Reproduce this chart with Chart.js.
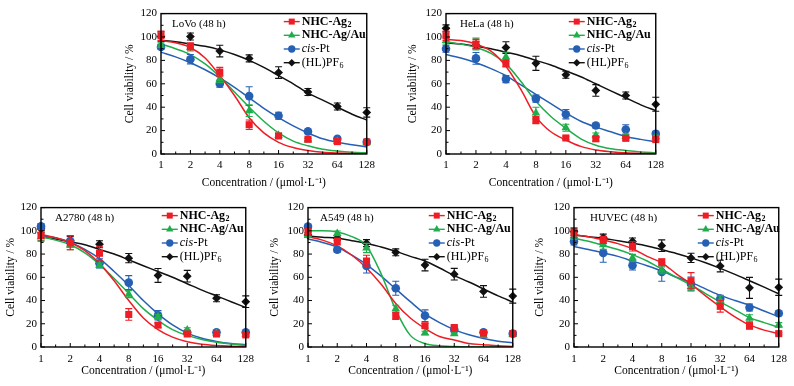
<!DOCTYPE html>
<html>
<head>
<meta charset="utf-8">
<script src="https://cdn.jsdelivr.net/npm/chart.js"></script>
<style>
  body { margin: 0; background: #fff; width: 794px; height: 386px; position: relative; overflow: hidden; }
  canvas { position: absolute; }
</style>
</head>
<body>
<canvas id="lovo"></canvas>
<canvas id="hela"></canvas>
<canvas id="a2780"></canvas>
<canvas id="a549"></canvas>
<canvas id="huvec"></canvas>
<script>
// ===== dose-response panels (cell viability vs concentration) =====
const CONC = [1, 2, 4, 8, 16, 32, 64, 128];
const FIT_CONC = [1, 1.41, 2, 2.83, 4, 5.66, 8, 11.3, 16, 22.6, 32, 45.3, 64, 90.5, 128];
const X_TICKS = ["1", "2", "4", "8", "16", "32", "64", "128"];

// LoVo
const lovoAg2 = [101, 92, 70, 25, 15.4, 12.6, 10.6, 10.3];
const lovoAg2Err = [4, 3, 4, 4, 2, 1, 1.5, 1];
const lovoAgAu = [93, 91, 64, 37, 16, 12, 11, 10];
const lovoAgAuErr = [2, 3, 3, 5, 2, 1, 1, 1];
const lovoPt = [91.5, 81, 60, 49.5, 32.7, 19.3, 13, 10.3];
const lovoPtErr = [2, 4, 3, 8, 3, 2, 1.5, 1];
const lovoHL = [100.4, 100.4, 88, 81.7, 69.6, 53, 40.6, 35.5];
const lovoHLErr = [4, 3, 5, 3, 5, 3, 3, 4];
const lovoAg2Fit = [97, 95, 91, 82, 67, 50, 31, 18, 10, 5.5, 3, 1.5, 0.8, 0.4, 0.2];
const lovoAgAuFit = [94, 90, 85, 77, 66, 53, 40, 28, 18, 11, 7, 4, 2.5, 1.5, 1];
const lovoPtFit = [87, 83, 78, 72, 65, 57, 48, 39, 31, 24, 18, 13, 10, 8, 6];
const lovoHLFit = [97, 96, 94, 92, 89, 85, 80, 74, 67, 60, 52, 46, 40, 34, 29];

// HeLa
const helaAg2 = [101, 94, 77.5, 29, 13.7, 13, 13.4, 12.3];
const helaAg2Err = [4, 4, 3, 3, 1.5, 2, 1.5, 1.5];
const helaAgAu = [97, 94, 83, 35, 22.4, 16, 15, 14.5];
const helaAgAuErr = [3, 5, 4, 5, 3, 2, 1.5, 1.5];
const helaPt = [90, 81.7, 64, 47.3, 34, 24.3, 21, 17.3];
const helaPtErr = [3, 5, 3, 3, 4, 2, 4, 2];
const helaHL = [107.4, 93, 91, 77.5, 67.7, 54.3, 50, 42.5];
const helaHLErr = [3, 3, 5, 6, 3, 5, 3, 6];
const helaAg2Fit = [98, 97, 94, 88, 75, 55, 32, 19, 12, 6.5, 3.5, 2, 1, 0.5, 0.3];
const helaAgAuFit = [96, 94, 91, 86, 77, 62, 45, 32, 22, 13, 7.5, 4.5, 3, 1.8, 1];
const helaPtFit = [85, 82, 78, 73, 67, 59, 51, 43, 35, 28, 23, 19, 15, 12.5, 10.5];
const helaHLFit = [95, 94, 92, 90, 87, 84, 80, 76, 71, 66, 60, 54, 48, 42, 37];

// A2780
const a2780Ag2 = [96, 89.7, 80.7, 28, 18.8, 11.2, 11.2, 10.4];
const a2780Ag2Err = [5, 6, 6, 5, 2, 1.5, 1, 1.5];
const a2780AgAu = [94.7, 87.7, 70.3, 45.5, 26, 14.6, 11.8, 11.2];
const a2780AgAuErr = [3, 4, 2, 3, 2, 2, 1, 1];
const a2780Pt = [104, 91, 72, 55.4, 27.3, 12.4, 12.6, 12.6];
const a2780PtErr = [2, 5, 4, 6, 4, 1.5, 1, 1];
const a2780HL = [101.7, 92, 88.5, 76.5, 61.6, 61, 42, 39];
const a2780HLErr = [3, 3, 3, 4, 6, 5, 3, 5];
const a2780Ag2Fit = [97, 94, 90, 83, 72, 57, 40, 25, 15, 8.5, 4.5, 2.3, 1.2, 0.6, 0.3];
const a2780AgAuFit = [95, 92, 88, 81, 71, 59, 46, 33, 23, 15, 10, 6.5, 4, 2.5, 1.5];
const a2780PtFit = [96, 94, 90, 84, 76, 65, 53, 40, 28.5, 19, 12, 7.5, 4.8, 3, 2];
const a2780HLFit = [95, 93, 90.5, 88, 84, 80, 75, 70, 65, 60, 54.5, 49, 44, 39, 34];

// A549
const a549Ag2 = [99, 90.8, 74, 26.7, 18.3, 16.3, 12, 11.5];
const a549Ag2Err = [3, 3, 5, 3, 2, 3, 1.5, 1.5];
const a549AgAu = [96.4, 97.8, 85.2, 33, 12, 11.5, 10, 10.7];
const a549AgAuErr = [2, 2, 4, 3, 1.5, 1.5, 1, 1];
const a549Pt = [103.7, 83.7, 69.7, 50.6, 27, 15, 12.6, 11.5];
const a549PtErr = [2, 2, 6, 6, 5, 3, 1.5, 1];
const a549HL = [96.4, 93.6, 89.4, 81.5, 70.5, 62.7, 47.8, 43.8];
const a549HLErr = [2, 2, 3, 3, 5, 5, 5, 6];
const a549Ag2Fit = [95, 92, 87, 79, 68, 54, 37.5, 25, 16, 9, 6, 3, 2, 1, 0.5];
const a549AgAuFit = [100, 100, 99, 95, 87, 63, 32, 10, 3, 1, 0.4, 0.1, 0, 0, 0];
const a549PtFit = [93, 90, 86, 79, 71, 61, 50, 39, 28.5, 21, 15, 10.5, 7.3, 5, 3.7];
const a549HLFit = [95.5, 94.5, 93.6, 91.5, 89.4, 86, 82.3, 78, 74, 68, 61.5, 56, 50, 44, 38.8];

// HUVEC
const huvecAg2 = [98.6, 92.2, 86.6, 73, 57, 35, 18.3, 11.5];
const huvecAg2Err = [4, 3, 4, 3, 7, 5, 3, 1];
const huvecAgAu = [95.5, 88, 76.7, 66, 52, 40, 24.7, 19];
const huvecAgAuErr = [3, 4, 3, 3, 3, 4, 3, 2];
const huvecPt = [90.8, 81, 70.3, 64.6, 54.3, 41.6, 34, 29];
const huvecPtErr = [3, 8, 4, 8, 6, 3, 3, 2];
const huvecHL = [99.2, 94.2, 90.8, 87.2, 76.7, 69.7, 50.9, 51.4];
const huvecHLErr = [3, 3, 3, 5, 4, 5, 9, 7];
const huvecAg2Fit = [96.4, 95, 92.2, 89, 84.6, 78, 72.5, 63, 54, 44, 34.6, 26, 19, 14.5, 11.5];
const huvecAgAuFit = [93.6, 91, 87.4, 84, 79.5, 74, 67, 60, 53.4, 46, 38.8, 32, 25.3, 21, 17];
const huvecPtFit = [86.6, 84, 81, 78, 74, 70, 65.5, 60, 55.6, 50, 44.4, 40, 36, 31, 26];
const huvecHLFit = [96.4, 95, 93.6, 91.5, 89.4, 87, 83.8, 80.5, 76.7, 72.5, 67.7, 62.5, 57, 51.5, 45.8];

// series styles (red, green, blue, black)
const STYLES = [
  { color: "#ee1d25", point: "rect", r: 5 },
  { color: "#1fae4b", point: "triangle", r: 5 },
  { color: "#2560b5", point: "circle", r: 4.3 },
  { color: "#111111", point: "rectRot", r: 4.4 }
];

// legend labels, pieces with their own font style
const LEGEND = [
  [{ t: "NHC-Ag", w: "bold" }, { t: "2", w: "bold", sub: true }],
  [{ t: "NHC-Ag/Au", w: "bold" }],
  [{ t: "cis", s: "italic" }, { t: "-Pt" }],
  [{ t: "(HL)PF" }, { t: "6", sub: true }]
];

const SERIF = '"Liberation Serif", "Times New Roman", serif';
Chart.defaults.font.family = SERIF;
Chart.defaults.color = "#000";

function marker(ctx, style, x, y, r) {
  ctx.beginPath();
  if (style === "circle") {
    ctx.arc(x, y, r, 0, Math.PI * 2);
  } else if (style === "rect") {
    const s = r * Math.SQRT1_2;
    ctx.rect(x - s, y - s, 2 * s, 2 * s);
  } else if (style === "triangle") {
    ctx.moveTo(x, y - r);
    ctx.lineTo(x + r * 0.866, y + r * 0.5);
    ctx.lineTo(x - r * 0.866, y + r * 0.5);
    ctx.closePath();
  } else {
    ctx.moveTo(x, y - r); ctx.lineTo(x + r, y); ctx.lineTo(x, y + r); ctx.lineTo(x - r, y);
    ctx.closePath();
  }
  ctx.fill();
}

// error bars + frame + inward ticks + legend
const panelPlugin = {
  id: "panel",
  beforeDatasetDraw(chart, args) {
    const ds = chart.data.datasets[args.index];
    if (!ds.errors) return;
    const { ctx, scales: { x, y } } = chart;
    ctx.save();
    ctx.strokeStyle = ds.borderColor;
    ctx.lineWidth = 1.1;
    ctx.beginPath();
    ds.data.forEach((p, i) => {
      const px = x.getPixelForValue(p.x);
      const y1 = y.getPixelForValue(p.y + ds.errors[i]);
      const y2 = y.getPixelForValue(p.y - ds.errors[i]);
      ctx.moveTo(px, y1); ctx.lineTo(px, y2);
      ctx.moveTo(px - 3.5, y1); ctx.lineTo(px + 3.5, y1);
      ctx.moveTo(px - 3.5, y2); ctx.lineTo(px + 3.5, y2);
    });
    ctx.stroke();
    ctx.restore();
  },
  afterDraw(chart, args, opts) {
    const { ctx, chartArea: a, scales: { x, y } } = chart;
    ctx.save();
    ctx.strokeStyle = "#000";
    ctx.lineWidth = 1.4;
    ctx.strokeRect(a.left, a.top, a.right - a.left, a.bottom - a.top);

    ctx.lineWidth = 1;
    ctx.beginPath();
    x.ticks.forEach((t, i) => {
      const px = x.getPixelForValue(t.value);
      ctx.moveTo(px, a.bottom); ctx.lineTo(px, a.bottom - 4);
      if (i < x.ticks.length - 1) {
        const mx = x.getPixelForValue(t.value * Math.SQRT2);
        ctx.moveTo(mx, a.bottom); ctx.lineTo(mx, a.bottom - 2.5);
      }
    });
    y.ticks.forEach((t, i) => {
      const py = y.getPixelForValue(t.value);
      ctx.moveTo(a.left, py); ctx.lineTo(a.left + 4, py);
      if (i < y.ticks.length - 1) {
        const my = y.getPixelForValue(t.value + 10);
        ctx.moveTo(a.left, my); ctx.lineTo(a.left + 2.5, my);
      }
    });
    ctx.stroke();

    // panel label
    ctx.fillStyle = "#000";
    ctx.textBaseline = "middle";
    ctx.textAlign = "left";
    ctx.font = "11px " + SERIF;
    ctx.fillText(opts.label, a.left + opts.labelDx, a.top + 10.7);

    // legend
    const tx = a.right - opts.legendDx;
    LEGEND.forEach((parts, i) => {
      const ly = a.top + 8 + i * 13.7;
      const st = STYLES[i];
      ctx.strokeStyle = st.color;
      ctx.fillStyle = st.color;
      ctx.lineWidth = 1.4;
      ctx.beginPath();
      ctx.moveTo(tx - 18, ly); ctx.lineTo(tx - 2, ly);
      ctx.stroke();
      marker(ctx, st.point, tx - 10, ly, st.r * 0.85);
      ctx.fillStyle = "#000";
      let cx = tx;
      parts.forEach(p => {
        const size = p.sub ? 8 : 12;
        ctx.font = (p.s || "normal") + " " + (p.w || "normal") + " " + size + "px " + SERIF;
        ctx.fillText(p.t, cx, p.sub ? ly + 3.5 : ly);
        cx += ctx.measureText(p.t).width + (p.sub ? 0 : 0.5);
      });
    });
    ctx.restore();
  }
};

function makePanel(id, geom, label, series) {
  const el = document.getElementById(id);
  el.width = geom.w; el.height = geom.h;
  el.style.left = geom.left + "px"; el.style.top = geom.top + "px";

  const points = series.map((s, i) => ({
    type: "line",
    data: CONC.map((c, k) => ({ x: c, y: s.mean[k] })),
    errors: s.err,
    showLine: false,
    clip: false,
    borderColor: STYLES[i].color,
    backgroundColor: STYLES[i].color,
    pointStyle: STYLES[i].point,
    pointRadius: STYLES[i].r,
    pointBorderWidth: 0,
    order: 0
  }));
  const curves = series.map((s, i) => ({
    type: "line",
    data: FIT_CONC.map((c, k) => ({ x: c, y: s.fit[k] })),
    borderColor: STYLES[i].color,
    borderWidth: 1.5,
    pointRadius: 0,
    cubicInterpolationMode: "monotone",
    fill: false,
    order: 1
  }));

  return new Chart(el, {
    type: "line",
    data: { datasets: points.concat(curves) },
    plugins: [panelPlugin],
    options: {
      responsive: false,
      animation: false,
      devicePixelRatio: 1,
      layout: { padding: { top: 8, right: 12, left: 0, bottom: 0 } },
      plugins: {
        legend: { display: false },
        tooltip: { enabled: false },
        panel: { label: label, labelDx: geom.labelDx, legendDx: geom.legendDx }
      },
      scales: {
        x: {
          type: "logarithmic",
          min: 1, max: 128,
          afterBuildTicks: s => { s.ticks = CONC.map(v => ({ value: v })); },
          afterFit: s => { s.height = geom.xH; },
          grid: { display: false, drawTicks: false },
          border: { display: false },
          ticks: { autoSkip: false, maxRotation: 0, padding: geom.tickPad, font: { size: 11 },
                   callback: (v, i) => X_TICKS[i] },
          title: { display: true, text: "Concentration / (μmol·L⁻¹)", font: { size: 11.5 },
                   padding: { top: 0, bottom: 4 } }
        },
        y: {
          min: 0, max: 120,
          afterFit: s => { s.width = geom.yW; },
          grid: { display: false, drawTicks: false },
          border: { display: false },
          ticks: { stepSize: 20, padding: 4, font: { size: 11 } },
          title: { display: true, text: "Cell viability / %", font: { size: 11.5 },
                   padding: { top: 4, bottom: 4 } }
        }
      }
    }
  });
}

makePanel("lovo", { left: 119, top: 3, w: 261, h: 191, yW: 42, xH: 40, tickPad: 5, labelDx: 11, legendDx: 65 }, "LoVo (48 h)", [
  { mean: lovoAg2, err: lovoAg2Err, fit: lovoAg2Fit },
  { mean: lovoAgAu, err: lovoAgAuErr, fit: lovoAgAuFit },
  { mean: lovoPt, err: lovoPtErr, fit: lovoPtFit },
  { mean: lovoHL, err: lovoHLErr, fit: lovoHLFit }
]);
makePanel("hela", { left: 402, top: 3, w: 267, h: 191, yW: 44, xH: 40, tickPad: 5, labelDx: 14, legendDx: 69 }, "HeLa (48 h)", [
  { mean: helaAg2, err: helaAg2Err, fit: helaAg2Fit },
  { mean: helaAgAu, err: helaAgAuErr, fit: helaAgAuFit },
  { mean: helaPt, err: helaPtErr, fit: helaPtFit },
  { mean: helaHL, err: helaHLErr, fit: helaHLFit }
]);
makePanel("a2780", { left: 0, top: 197, w: 260, h: 185, yW: 41, xH: 35, tickPad: 6, labelDx: 14, legendDx: 66 }, "A2780 (48 h)", [
  { mean: a2780Ag2, err: a2780Ag2Err, fit: a2780Ag2Fit },
  { mean: a2780AgAu, err: a2780AgAuErr, fit: a2780AgAuFit },
  { mean: a2780Pt, err: a2780PtErr, fit: a2780PtFit },
  { mean: a2780HL, err: a2780HLErr, fit: a2780HLFit }
]);
makePanel("a549", { left: 264, top: 197, w: 263, h: 185, yW: 44, xH: 35, tickPad: 6, labelDx: 12, legendDx: 66 }, "A549 (48 h)", [
  { mean: a549Ag2, err: a549Ag2Err, fit: a549Ag2Fit },
  { mean: a549AgAu, err: a549AgAuErr, fit: a549AgAuFit },
  { mean: a549Pt, err: a549PtErr, fit: a549PtFit },
  { mean: a549HL, err: a549HLErr, fit: a549HLFit }
]);
makePanel("huvec", { left: 529, top: 197, w: 264, h: 185, yW: 45, xH: 35, tickPad: 6, labelDx: 16, legendDx: 63 }, "HUVEC (48 h)", [
  { mean: huvecAg2, err: huvecAg2Err, fit: huvecAg2Fit },
  { mean: huvecAgAu, err: huvecAgAuErr, fit: huvecAgAuFit },
  { mean: huvecPt, err: huvecPtErr, fit: huvecPtFit },
  { mean: huvecHL, err: huvecHLErr, fit: huvecHLFit }
]);
</script>
</body>
</html>
